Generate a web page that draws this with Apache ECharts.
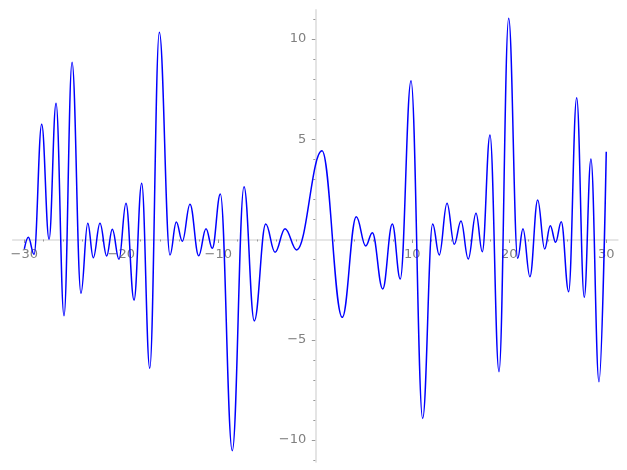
<!DOCTYPE html>
<html><head><meta charset="utf-8">
<script src="https://cdn.jsdelivr.net/npm/echarts@6/dist/echarts.min.js"></script>
<style>html,body{margin:0;padding:0;background:#fff}#c{width:627px;height:470px}</style>
</head><body><div id="c"></div>
<script>
// local extrema of the curve (x, y)
const xs = [-30.0,-29.59,-29.0,-28.21,-27.45,-26.73,-25.91,-25.08,-24.16,-23.46,-22.89,-22.20,-21.51,-20.93,-20.24,-19.52,-18.69,-17.90,-17.07,-16.08,-14.98,-14.33,-13.71,-12.92,-12.02,-11.27,-10.62,-9.79,-8.56,-7.35,-6.29,-5.11,-4.15,-3.12,-1.92,0.69,2.78,4.23,5.20,5.88,6.95,7.94,8.76,9.87,11.07,12.10,12.78,13.58,14.33,15.02,15.77,16.57,17.22,18.01,18.94,19.94,20.87,21.41,22.13,22.93,23.65,24.23,24.78,25.36,26.12,26.95,27.73,28.42,29.25,30.0];
const ys = [-0.47,0.11,-0.74,5.75,0.01,6.79,-3.80,8.84,-2.68,0.81,-0.91,0.81,-0.82,0.51,-0.99,1.81,-3.02,2.80,-6.42,10.33,-0.77,0.87,-0.09,1.76,-0.81,0.54,-0.44,2.27,-10.53,2.63,-4.06,0.77,-0.64,0.54,-0.52,4.42,-3.88,1.14,-0.32,0.34,-2.47,0.77,-1.97,7.92,-8.92,0.77,-0.77,1.81,-0.24,0.92,-0.97,1.31,-0.61,5.21,-6.59,11.03,-0.94,0.54,-1.86,1.97,-0.47,0.69,-0.14,0.89,-2.60,7.07,-2.88,4.01,-7.09,4.38];
const xMajor = [-30,-20,-10,10,20,30];
const xMinor = [-28,-26,-24,-22,-18,-16,-14,-12,-8,-6,-4,-2,2,4,6,8,12,14,16,18,22,24,26,28];
const yMajor = [-10,-5,5,10];
const yMinor = [-11,-9,-8,-7,-6,-4,-3,-2,-1,1,2,3,4,6,7,8,9,11];

const X_MIN = -31.2, X_MAX = 31.2, Y_MIN = -11.1, Y_MAX = 11.45;
const G = {left:12.7, width:605.2, top:9.9, height:452.2};
// axes cross at the origin: shift the edge axes onto the zero lines
const zeroX = G.left + (0 - X_MIN) / (X_MAX - X_MIN) * G.width;
const zeroY = G.top + (Y_MAX - 0) / (Y_MAX - Y_MIN) * G.height;
const xOff = -(G.top + G.height - zeroY);
const yOff = -(zeroX - G.left);

const fmt = v => String(v).replace('-', '\u2212');
const lab = {color:'#808080', fontSize:13, fontFamily:'DejaVu Sans'};
const lineStyle = {color:'#dedede', width:1.6};
const tickStyle = {color:'#999999', width:1};

const chart = echarts.init(document.getElementById('c'), null, {renderer:'canvas'});
chart.setOption({
  animation:false,
  grid:{...G, containLabel:false, outerBoundsMode:'none'},
  xAxis:[
    {type:'value', min:X_MIN, max:X_MAX, position:'bottom', offset:xOff,
     axisLine:{show:true, onZero:false, lineStyle},
     axisTick:{show:true, customValues:xMajor, length:3.5, lineStyle:tickStyle},
     axisLabel:{show:true, customValues:xMajor, formatter:fmt, margin:9, ...lab},
     splitLine:{show:false}},
    {type:'value', min:X_MIN, max:X_MAX, position:'bottom', offset:xOff,
     axisLine:{show:false, onZero:false},
     axisTick:{show:true, customValues:xMinor, length:2, lineStyle:tickStyle},
     axisLabel:{show:false}, splitLine:{show:false}}
  ],
  yAxis:[
    {type:'value', min:Y_MIN, max:Y_MAX, position:'left', offset:yOff,
     axisLine:{show:true, onZero:false, lineStyle},
     axisTick:{show:true, customValues:yMajor, length:3.5, lineStyle:tickStyle},
     axisLabel:{show:true, customValues:yMajor, formatter:fmt, margin:9, ...lab},
     splitLine:{show:false}},
    {type:'value', min:Y_MIN, max:Y_MAX, position:'left', offset:yOff,
     axisLine:{show:false, onZero:false},
     axisTick:{show:true, customValues:yMinor, length:2, lineStyle:tickStyle},
     axisLabel:{show:false}, splitLine:{show:false}}
  ],
  series:[{
    type:'line', xAxisIndex:0, yAxisIndex:0,
    data: xs.map((x,i)=>[x, ys[i]]),
    showSymbol:false, smooth:0.4, smoothMonotone:'x',
    lineStyle:{color:'#0000ff', width:1.5}, clip:false
  }]
});
</script></body></html>
